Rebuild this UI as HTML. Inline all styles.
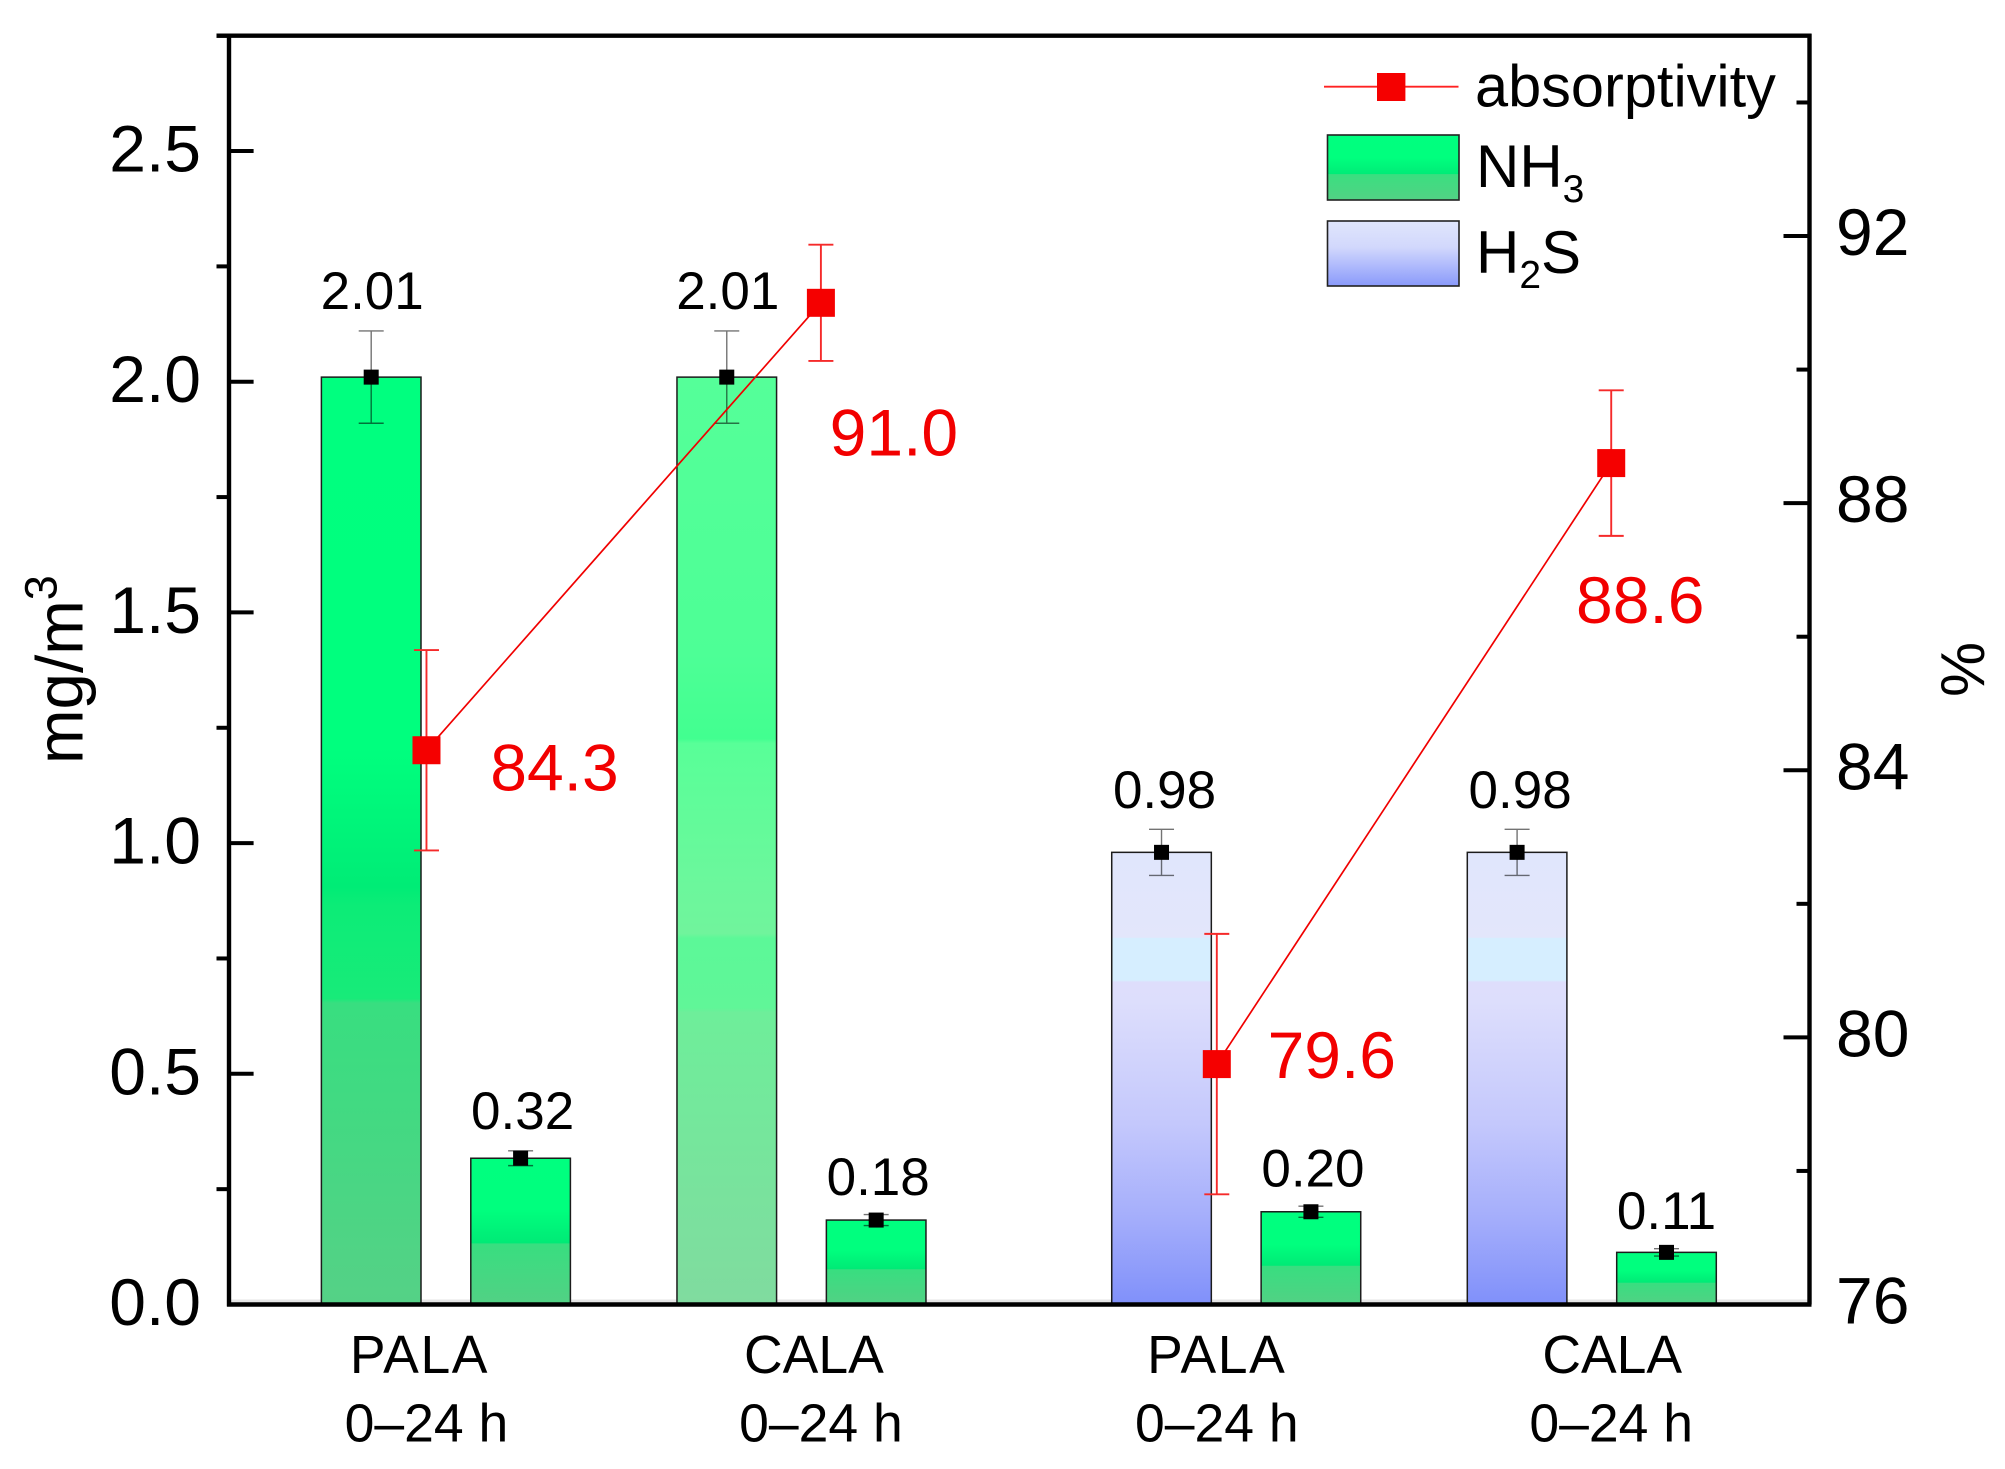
<!DOCTYPE html>
<html lang="en">
<head>
<meta charset="utf-8">
<title>NH3 and H2S concentration with absorptivity</title>
<style>
  html, body { margin: 0; padding: 0; background: #fff; }
  body { width: 2005px; height: 1469px; overflow: hidden; }
  svg { display: block; font-family: "Liberation Sans", Arial, sans-serif; }
</style>
</head>
<body>
<svg id="chart" xmlns="http://www.w3.org/2000/svg" width="2005" height="1469" viewBox="0 0 2005 1469">
  <defs>
    <linearGradient id="fill-tall" x1="0" y1="0" x2="0" y2="1">
      <stop offset="0" stop-color="#00FF7F"/>
      <stop offset="0.40" stop-color="#00FF7E"/>
      <stop offset="0.55" stop-color="#00EC76"/>
      <stop offset="0.57" stop-color="#0CEC77"/>
      <stop offset="0.67" stop-color="#18EB79"/>
      <stop offset="0.675" stop-color="#38DE80"/>
      <stop offset="1" stop-color="#55D186"/>
    </linearGradient>
    <linearGradient id="fill-pale" x1="0" y1="0" x2="0" y2="1">
      <stop offset="0" stop-color="#55FF99"/>
      <stop offset="0.30" stop-color="#4DFF96"/>
      <stop offset="0.39" stop-color="#42FF90"/>
      <stop offset="0.395" stop-color="#58FF98"/>
      <stop offset="0.55" stop-color="#6CF79C"/>
      <stop offset="0.60" stop-color="#70F49C"/>
      <stop offset="0.605" stop-color="#5CF898"/>
      <stop offset="0.68" stop-color="#60F698"/>
      <stop offset="0.685" stop-color="#6EEE9A"/>
      <stop offset="1" stop-color="#80DB9F"/>
    </linearGradient>
    <linearGradient id="fill-small" x1="0" y1="0" x2="0" y2="1">
      <stop offset="0" stop-color="#00FF7F"/>
      <stop offset="0.35" stop-color="#00FF7E"/>
      <stop offset="0.58" stop-color="#00EA76"/>
      <stop offset="0.585" stop-color="#38DE80"/>
      <stop offset="1" stop-color="#52D184"/>
    </linearGradient>
    <linearGradient id="fill-blue" x1="0" y1="0" x2="0" y2="1">
      <stop offset="0" stop-color="#E0E6FC"/>
      <stop offset="0.188" stop-color="#E3E6FB"/>
      <stop offset="0.19" stop-color="#D6EEFF"/>
      <stop offset="0.283" stop-color="#D6EEFF"/>
      <stop offset="0.287" stop-color="#DEDEFC"/>
      <stop offset="0.33" stop-color="#DDDEFC"/>
      <stop offset="0.60" stop-color="#C4C8FC"/>
      <stop offset="0.80" stop-color="#A6AFFB"/>
      <stop offset="1" stop-color="#8090FA"/>
    </linearGradient>
    <linearGradient id="fill-legend-nh3" x1="0" y1="0" x2="0" y2="1">
      <stop offset="0" stop-color="#00FF7F"/>
      <stop offset="0.35" stop-color="#00FF7E"/>
      <stop offset="0.6" stop-color="#00EC77"/>
      <stop offset="0.605" stop-color="#3ADF80"/>
      <stop offset="1" stop-color="#52D284"/>
    </linearGradient>
    <linearGradient id="fill-legend-h2s" x1="0" y1="0" x2="0" y2="1">
      <stop offset="0" stop-color="#E0E6FC"/>
      <stop offset="0.4" stop-color="#D2D8FC"/>
      <stop offset="1" stop-color="#8A9AFB"/>
    </linearGradient>
  </defs>

  <g id="bars"></g>
  <g id="bar-errors"></g>
  <g id="axes"></g>
  <g id="line-layer"></g>
  <g id="labels"></g>

  <g transform="translate(82.5,764) rotate(-90)">
    <text font-size="65.5" fill="#000" x="0" y="0">mg/m<tspan font-size="45" dy="-26">3</tspan></text>
  </g>
  <g transform="translate(1984,697) rotate(-90)">
    <text font-size="62" fill="#000" x="0" y="0">%</text>
  </g>

  <g>
    <g>
      <line x1="1324" y1="86.7" x2="1458.5" y2="86.7" stroke="#f22" stroke-width="1.8"/>
      <rect x="1377" y="73" width="28.4" height="28" fill="#f50000"/>
      <text x="1475" y="106.5" font-size="59.5" fill="#000">absorptivity</text>
    </g>
    <g>
      <rect x="1327.5" y="135" width="131.5" height="65" fill="url(#fill-legend-nh3)" stroke="#222" stroke-width="1.6"/>
      <text x="1476" y="187" font-size="60" fill="#000">NH<tspan font-size="39" dy="15">3</tspan></text>
    </g>
    <g>
      <rect x="1327.5" y="221" width="131.5" height="65" fill="url(#fill-legend-h2s)" stroke="#222" stroke-width="1.6"/>
      <text x="1476" y="273" font-size="60" fill="#000">H<tspan font-size="39" dy="15">2</tspan><tspan dy="-15">S</tspan></text>
    </g>
  </g>
</svg>

<script>
// ----- data -----
const barValues = [2.01, 0.317, 2.01, 0.183, 0.98, 0.201, 0.98, 0.113];
const barPrinted = ['2.01', '0.32', '2.01', '0.18', '0.98', '0.20', '0.98', '0.11'];
const barErrors = [0.10, 0.016, 0.10, 0.012, 0.05, 0.012, 0.05, 0.008];
const barSlots = [0, 1, 2.38, 3.38, 5.29, 6.29, 7.67, 8.67];
const barKinds = ['tall', 'small', 'pale', 'small', 'blue', 'small', 'blue', 'small'];
const absorptivity = [84.3, 91.0, 79.6, 88.6];
const absorptivityErrors = [1.5, 0.87, 1.95, 1.09];
const absorptivitySlots = [0.37, 3.01, 5.66, 8.30];
const absorptivityPrinted = ['84.3', '91.0', '79.6', '88.6'];
const lineGroups = [[0, 1], [2, 3]];
const categoryTop = ['PALA', 'CALA', 'PALA', 'CALA'];
const categoryBottom = ['0\u201324 h', '0\u201324 h', '0\u201324 h', '0\u201324 h'];
const leftMajorTicks = [0, 0.5, 1.0, 1.5, 2.0, 2.5];
const leftMajorLabels = ['0.0', '0.5', '1.0', '1.5', '2.0', '2.5'];
const leftMinorTicks = [0.25, 0.75, 1.25, 1.75, 2.25, 2.75];
const rightMajorTicks = [76, 80, 84, 88, 92];
const rightMajorLabels = ['76', '80', '84', '88', '92'];
const rightMinorTicks = [78, 82, 86, 90, 94];

// ----- layout and scales -----
const plot = { left: 229, right: 1809.5, top: 35.7, bottom: 1304.5 };
const yLeft = v => plot.bottom - (v / 2.75) * (plot.bottom - plot.top);
const yRight = v => plot.bottom - ((v - 76) / 19) * (plot.bottom - plot.top);
const xSlot = s => 371.2 + 149.4 * s;
const barWidth = 99.6;
const printedShift = [1, 2, 1, 2, 3, 2, 3, 0];
const printedLift = [22, 22, 22, 19.5, 21.5, 19.5, 21.5, 19.5];
const redLabelShift = [[128, 40.5], [73, 152.5], [115, 14], [29, 160]];
const categoryTopShift = [-7, -7, 0, 1];
const categorySpacing = [1.6, 0, 1.6, 0];

const NS = 'http://www.w3.org/2000/svg';
function make(parent, tag, attrs, text) {
  const el = document.createElementNS(NS, tag);
  for (const k in attrs) el.setAttribute(k, attrs[k]);
  if (text !== undefined) el.textContent = text;
  parent.appendChild(el);
  return el;
}
const barsG = document.getElementById('bars');
const errG = document.getElementById('bar-errors');
const axesG = document.getElementById('axes');
const lineG = document.getElementById('line-layer');
const labelsG = document.getElementById('labels');

// ----- axis shadow sits beneath the bars -----
const halo = make(barsG, 'rect', { x: 229, y: plot.bottom - 5, width: 1580, height: 4, fill: '#dcdcdc', 'fill-opacity': 0.7 });



// ----- bars, error bars and printed values -----
barValues.forEach((v, i) => {
  const cx = xSlot(barSlots[i]);
  const top = yLeft(v);
  const bar = make(barsG, 'rect', {
    x: cx - barWidth / 2, y: top, width: barWidth, height: yLeft(0) - top,
    fill: 'url(#fill-' + barKinds[i] + ')', stroke: '#1c1c1c', 'stroke-width': 1.5
  });
  
  

  const hi = yLeft(v + barErrors[i]);
  const lo = yLeft(v - barErrors[i]);
  const err = make(errG, 'path', {
    d: 'M' + (cx - 12.5) + ' ' + hi + 'H' + (cx + 12.5) +
       'M' + (cx - 12.5) + ' ' + lo + 'H' + (cx + 12.5) +
       'M' + cx + ' ' + hi + 'V' + lo,
    fill: 'none', stroke: '#000', 'stroke-opacity': 0.55, 'stroke-width': 1.4
  });
  
  

  const dot = make(errG, 'rect', {
    x: cx - 7.5, y: top - 7.5, width: 15, height: 15, fill: '#000'
  });
  
  

  const lab = make(labelsG, 'text', {
    x: cx + printedShift[i], y: hi - printedLift[i], 'text-anchor': 'middle', 'font-size': 53, fill: '#000'
  }, barPrinted[i]);
  
  
});

// ----- axes -----
const frame = make(axesG, 'path', {
  d: 'M227 ' + plot.bottom + 'H1811.5 M' + plot.right + ' ' + plot.bottom + 'V' + (plot.top - 2) +
     'M216.5 ' + plot.top + 'H1811.5 M' + plot.left + ' ' + (plot.top - 2) + 'V' + (plot.bottom + 2),
  fill: 'none', stroke: '#000', 'stroke-width': 4.4
});



leftMajorTicks.forEach((v, i) => {
  if (v > 0) {
    const t = make(axesG, 'line', { x1: plot.left, x2: 253.6, y1: yLeft(v), y2: yLeft(v), stroke: '#000', 'stroke-width': 4 });
    
    
  }
  const l = make(labelsG, 'text', { x: 201, y: yLeft(v) + 20.5, 'text-anchor': 'end', 'font-size': 66, fill: '#000' }, leftMajorLabels[i]);
  
  
});
leftMinorTicks.forEach(v => {
  const t = make(axesG, 'line', { x1: 216.5, x2: plot.left, y1: yLeft(v), y2: yLeft(v), stroke: '#000', 'stroke-width': 4 });
  
  
});
rightMajorTicks.forEach((v, i) => {
  if (v > 76) {
    const t = make(axesG, 'line', { x1: 1783.5, x2: plot.right, y1: yRight(v), y2: yRight(v), stroke: '#000', 'stroke-width': 4 });
    
    
  }
  const l = make(labelsG, 'text', { x: 1836, y: yRight(v) + 19, 'font-size': 66, fill: '#000' }, rightMajorLabels[i]);
  
  
});
rightMinorTicks.forEach(v => {
  const t = make(axesG, 'line', { x1: 1796.5, x2: plot.right, y1: yRight(v), y2: yRight(v), stroke: '#000', 'stroke-width': 4 });
  
  
});

// ----- category labels -----
categoryTop.forEach((name, i) => {
  const cx = xSlot(absorptivitySlots[i]);
  const a = make(labelsG, 'text', { x: cx + categoryTopShift[i], y: 1373, 'text-anchor': 'middle', 'font-size': 53.5, 'letter-spacing': categorySpacing[i], fill: '#000' }, name);
  
  
  const b = make(labelsG, 'text', { x: cx, y: 1441.5, 'text-anchor': 'middle', 'font-size': 53.5, fill: '#000' }, categoryBottom[i]);
  
  
});

// ----- absorptivity line: two separate segments, one per gas -----
lineGroups.forEach((group, g) => {
  const pts = group.map(i => xSlot(absorptivitySlots[i]) + ',' + yRight(absorptivity[i])).join(' ');
  const redLine = make(lineG, 'polyline', { points: pts, fill: 'none', stroke: '#f00000', 'stroke-width': 1.7 });
  
  
});

absorptivity.forEach((v, i) => {
  const cx = xSlot(absorptivitySlots[i]);
  const cy = yRight(v);
  const hi = yRight(v + absorptivityErrors[i]);
  const lo = yRight(v - absorptivityErrors[i]);
  const err = make(lineG, 'path', {
    d: 'M' + (cx - 12.5) + ' ' + hi + 'H' + (cx + 12.5) +
       'M' + (cx - 12.5) + ' ' + lo + 'H' + (cx + 12.5) +
       'M' + cx + ' ' + hi + 'V' + lo,
    fill: 'none', stroke: '#f52a2a', 'stroke-width': 1.9
  });
  
  

  const m = make(lineG, 'rect', { x: cx - 14, y: cy - 14, width: 28, height: 28, fill: '#f50000' });
  
  

  const l = make(labelsG, 'text', {
    x: cx + redLabelShift[i][0], y: cy + redLabelShift[i][1], 'text-anchor': 'middle', 'font-size': 66, fill: '#f20000'
  }, absorptivityPrinted[i]);
  
  
});
</script>
</body>
</html>
